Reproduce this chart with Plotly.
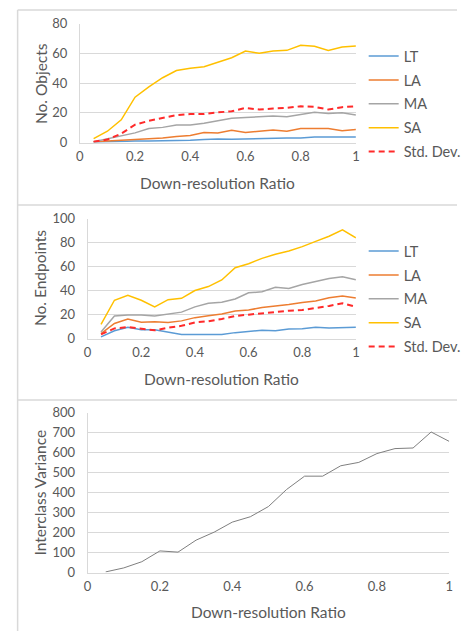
import plotly.graph_objects as go

W, H = 466, 639

ratio = [0.05, 0.10, 0.15, 0.20, 0.25, 0.30, 0.35, 0.40, 0.45, 0.50,
         0.55, 0.60, 0.65, 0.70, 0.75, 0.80, 0.85, 0.90, 0.95, 1.00]

# Panel 1: No. Objects
obj_LT = [0.2, 0.6, 0.9, 1.1, 1.1, 1.1, 1.3, 1.5, 2.0, 2.4, 2.2, 2.4, 3.0, 2.8, 3.0, 3.0, 3.7, 3.7, 3.9, 3.7]
obj_LA = [0.5, 1.0, 1.3, 2.0, 2.4, 3.0, 4.1, 4.8, 6.8, 6.5, 8.3, 6.8, 7.6, 8.5, 7.6, 9.4, 9.4, 9.4, 8.0, 8.7]
obj_MA = [0.5, 2.6, 4.8, 6.5, 9.4, 10.2, 11.8, 11.8, 13.0, 14.8, 16.3, 16.8, 17.4, 17.9, 17.4, 19.0, 20.3, 19.6, 20.0, 18.5]
obj_SA = [2.6, 7.6, 15.3, 30.5, 37.5, 43.6, 48.4, 50.0, 51.0, 54.0, 57.0, 61.5, 60.0, 61.5, 62.0, 65.4, 64.7, 62.0, 64.3, 65.0]
obj_SD = [0.5, 2.0, 6.0, 12.0, 14.6, 16.3, 18.5, 19.2, 19.2, 20.3, 21.0, 23.3, 22.2, 22.9, 23.3, 24.4, 24.0, 22.2, 23.8, 24.4]

# Panel 2: No. Endpoints
end_LT = [1.4, 6.5, 9.3, 7.4, 7.4, 5.2, 3.3, 3.3, 3.5, 3.3, 4.9, 5.7, 6.8, 6.5, 7.9, 8.2, 9.3, 8.7, 9.3, 9.3]
end_LA = [4.0, 12.5, 16.3, 13.6, 13.9, 13.4, 14.7, 17.4, 19.0, 20.4, 22.9, 23.7, 25.9, 27.0, 28.3, 30.0, 31.3, 34.0, 35.4, 33.8]
end_MA = [5.4, 18.8, 19.6, 19.6, 18.8, 20.2, 22.0, 26.4, 29.4, 30.2, 33.0, 38.1, 39.0, 42.8, 41.7, 45.0, 47.7, 50.1, 51.5, 49.0]
end_SA = [11.7, 31.9, 36.0, 31.9, 26.4, 32.4, 33.5, 40.0, 43.3, 48.8, 59.0, 62.4, 66.8, 70.3, 73.0, 76.6, 81.0, 85.3, 90.7, 83.9]
end_SD = [3.5, 8.4, 9.5, 8.2, 6.8, 9.0, 10.6, 13.4, 14.4, 16.3, 18.8, 19.9, 21.0, 22.3, 23.2, 23.7, 25.3, 27.2, 29.4, 26.4]

# Panel 3: Interclass Variance
variance = [3, 23, 54, 108, 102, 162, 202, 252, 279, 330, 415, 482, 482, 534, 551, 595, 620, 623, 703, 656]

series_names = ["LT", "LA", "MA", "SA", "Std. Dev."]
colors = {"LT": "#5B9BD5", "LA": "#ED7D31", "MA": "#A5A5A5", "SA": "#FFC000", "Std. Dev.": "#FF2A2A"}

FONT = "Lato"
TXT = "#595959"
GRID = "#D9D9D9"


def px(x):
    return x / W


def py(y):
    return 1 - y / H


fig = go.Figure()

panels = [
    (obj_LT, obj_LA, obj_MA, obj_SA, obj_SD),
    (end_LT, end_LA, end_MA, end_SA, end_SD),
]
for i, data in enumerate(panels):
    xa = "x" if i == 0 else "x2"
    ya = "y" if i == 0 else "y2"
    leg = "legend" if i == 0 else "legend2"
    for name, vals in zip(series_names, data):
        dash = "6px,4px" if name == "Std. Dev." else "solid"
        width = 2 if name == "Std. Dev." else 1.5
        fig.add_trace(go.Scatter(
            x=ratio, y=vals, mode="lines", name=name,
            line=dict(color=colors[name], width=width, dash=dash),
            xaxis=xa, yaxis=ya, legend=leg, legendgroup=f"{leg}_{name}",
        ))

fig.add_trace(go.Scatter(
    x=ratio, y=variance, mode="lines", name="Interclass Variance",
    line=dict(color="#7F7F7F", width=1), xaxis="x3", yaxis="y3", showlegend=False,
))

tickfont = dict(family=FONT, size=13, color=TXT)


def xaxis(left, right, anchor):
    return dict(domain=[px(left), px(right)], range=[0, 1], dtick=0.2, tick0=0,
                showgrid=False, zeroline=False, showline=True, linecolor=GRID, linewidth=1,
                ticks="", tickfont=tickfont, anchor=anchor, ticklabelstandoff=2,
                fixedrange=True)


def yaxis(top, bottom, rmax, dtick, anchor):
    return dict(domain=[py(bottom), py(top)], range=[0, rmax], dtick=dtick, tick0=0,
                showgrid=True, gridcolor=GRID, gridwidth=1, zeroline=False,
                showline=True, linecolor=GRID, linewidth=1,
                ticks="", tickfont=tickfont, anchor=anchor, ticklabelstandoff=9,
                fixedrange=True)


legend_common = dict(font=dict(family=FONT, size=14.5, color=TXT), bgcolor="rgba(0,0,0,0)",
                     tracegroupgap=2, itemwidth=30, xanchor="left", yanchor="top")

fig.update_layout(
    width=W, height=H, margin=dict(l=0, r=0, t=0, b=0),
    paper_bgcolor="white", plot_bgcolor="white",
    xaxis=xaxis(78, 362, "y"),
    yaxis=yaxis(16, 138, 80, 20, "x"),
    xaxis2=xaxis(86, 362, "y2"),
    yaxis2=yaxis(216, 339, 100, 20, "x2"),
    xaxis3=xaxis(86, 458, "y3"),
    yaxis3=yaxis(415, 579, 800, 100, "x3"),
    legend=dict(x=px(370), y=py(33), **legend_common),
    legend2=dict(x=px(370), y=py(233), **legend_common),
)

titlefont = dict(family=FONT, size=15.5, color=TXT)
annos = [
    ("Down-resolution Ratio", 220, 180, 0),
    ("No. Objects", 38, 77, -90),
    ("Down-resolution Ratio", 224, 381, 0),
    ("No. Endpoints", 37, 277, -90),
    ("Down-resolution Ratio", 272, 620, 0),
    ("Interclass Variance", 37, 497, -90),
]
for text, x, y, ang in annos:
    fig.add_annotation(text=text, x=px(x), y=py(y), xref="paper", yref="paper",
                       showarrow=False, textangle=ang, font=titlefont,
                       xanchor="center", yanchor="middle")

# panel borders
border = dict(color=GRID, width=1.5)
fig.add_shape(type="line", xref="paper", yref="paper", x0=px(14), x1=px(14), y0=py(2), y1=0, line=border)
for yb in (2, 202, 402):
    fig.add_shape(type="line", xref="paper", yref="paper", x0=px(14), x1=1, y0=py(yb), y1=py(yb), line=border)

fig.write_html("out.html")
